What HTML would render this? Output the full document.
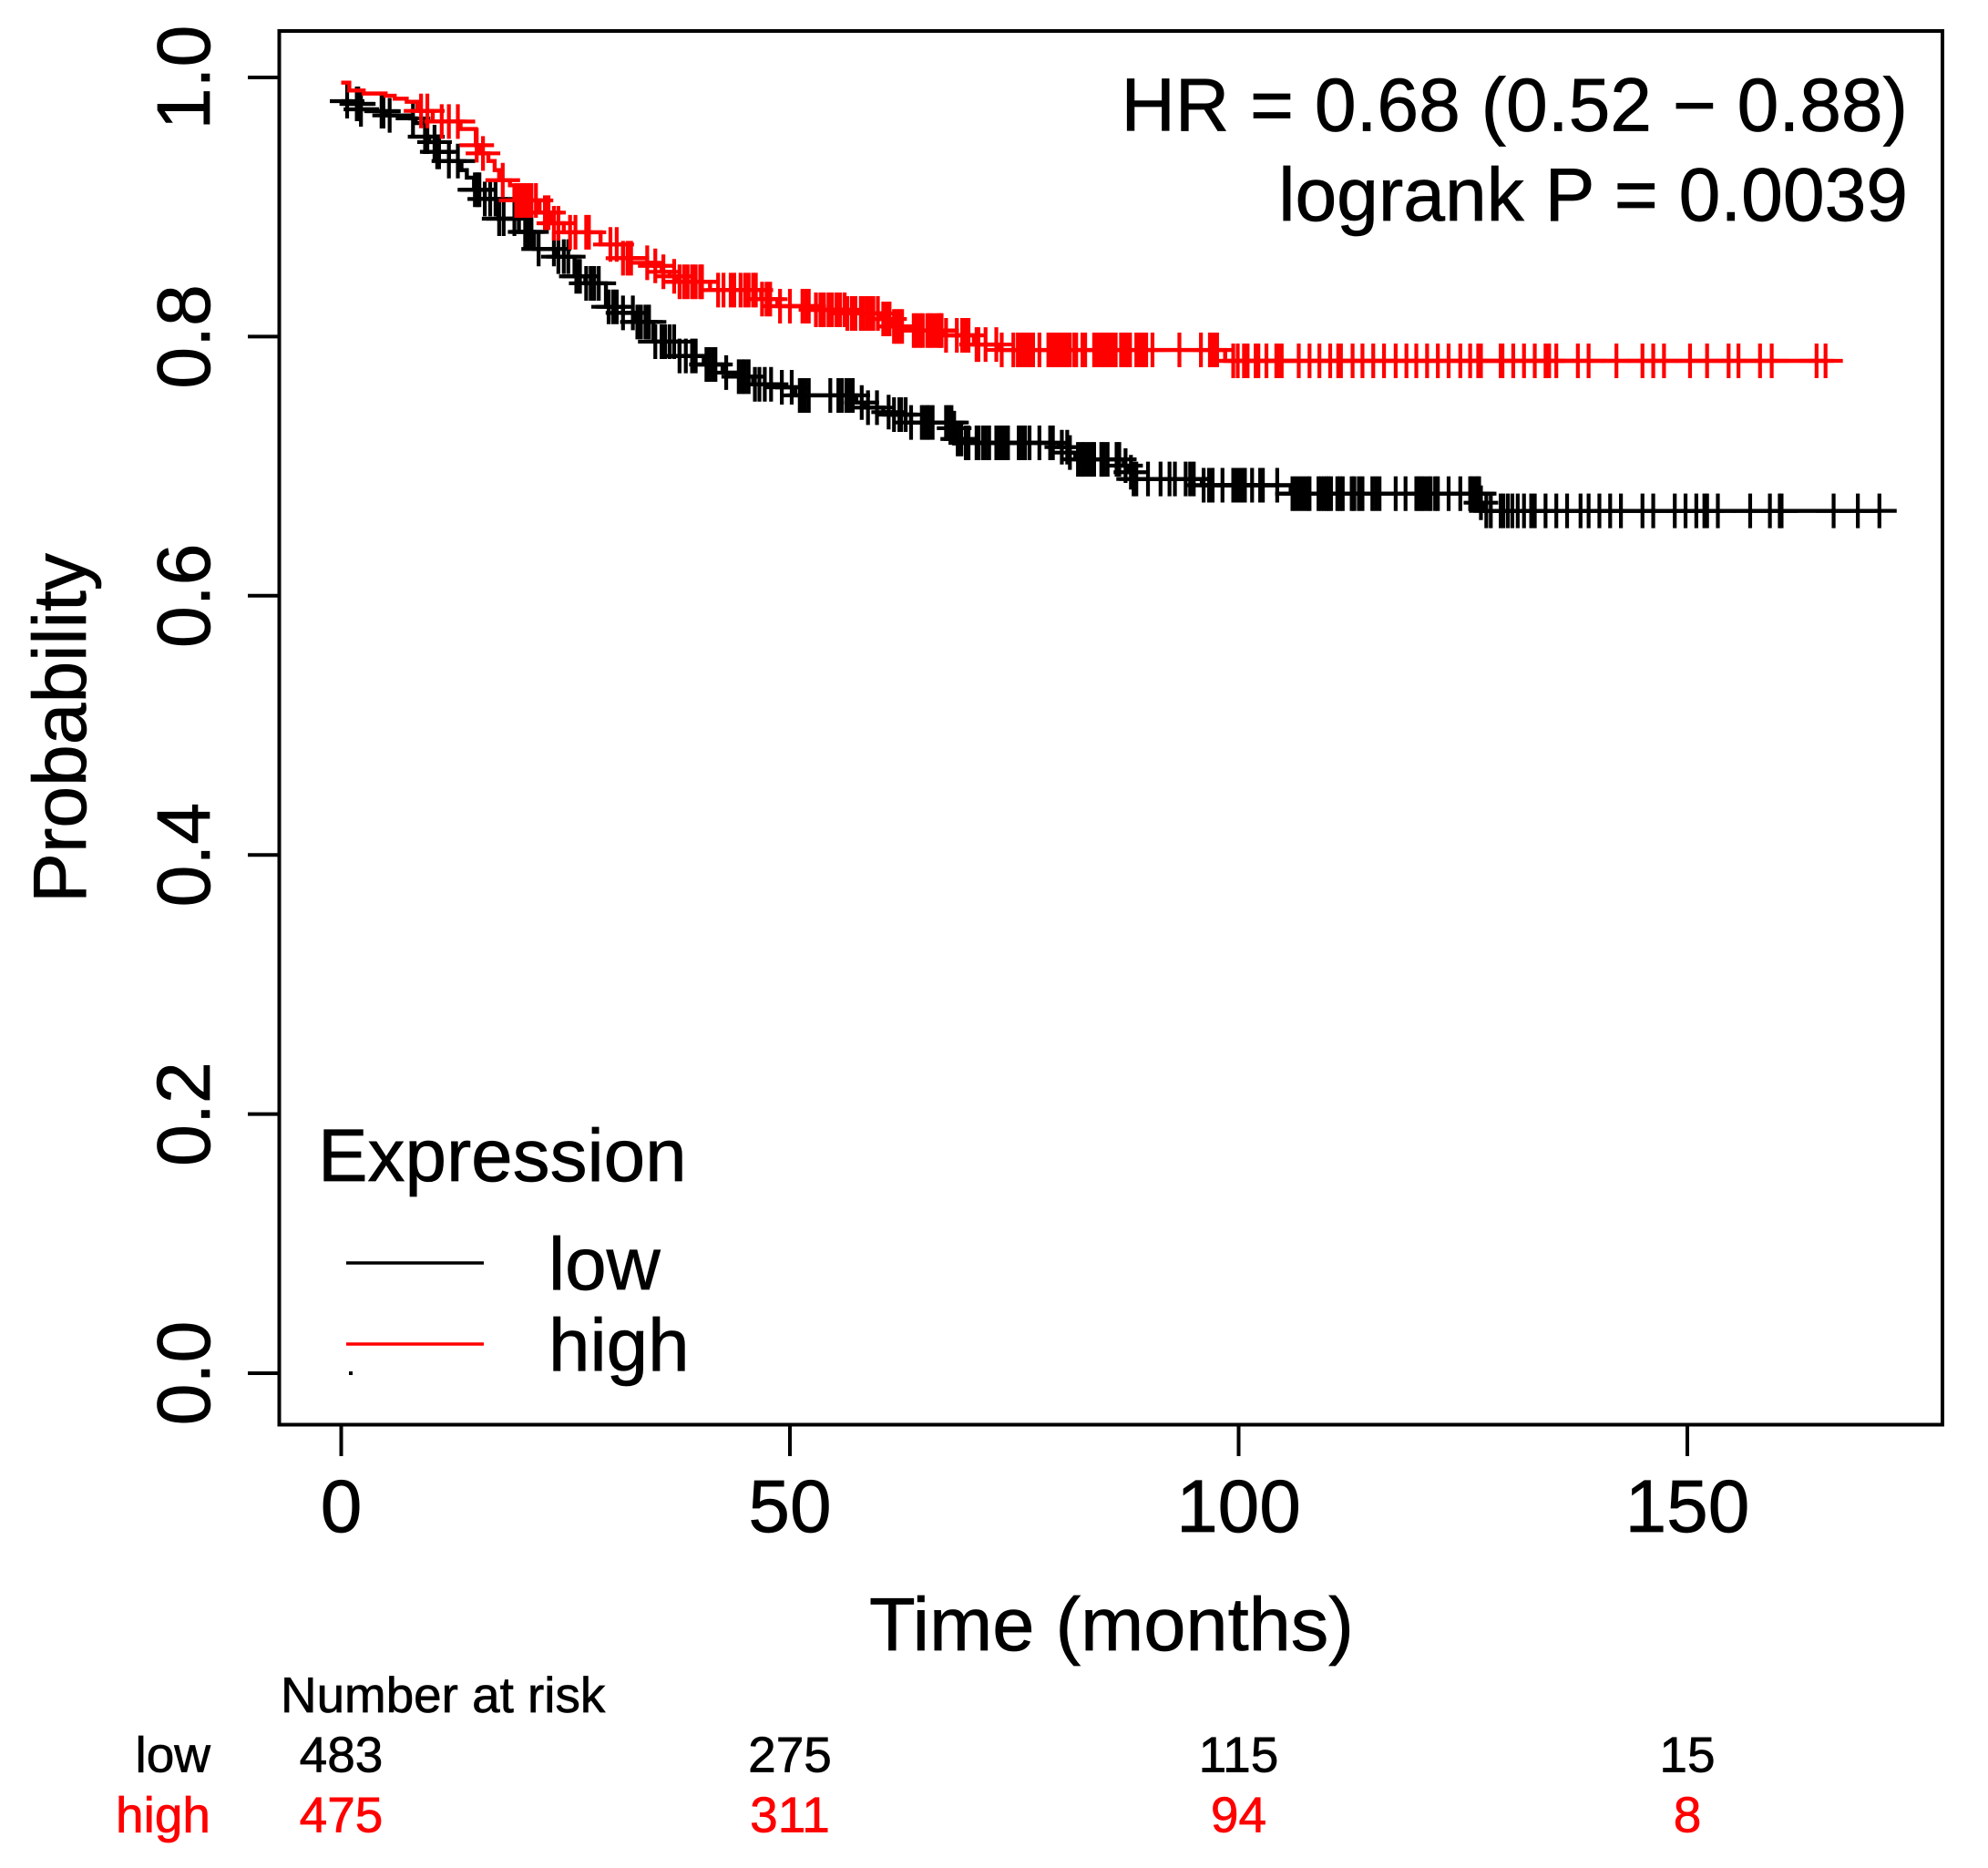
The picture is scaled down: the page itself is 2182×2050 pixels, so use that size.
<!DOCTYPE html>
<html lang="en">
<head>
<meta charset="utf-8">
<title>Kaplan-Meier survival plot</title>
<style>
html,body{margin:0;padding:0;background:#fff;}
svg{display:block;font-family:"Liberation Sans",Arial,sans-serif;}
text{stroke:#000;stroke-width:.7px;}
text[fill="#f00"]{stroke:#f00;}
</style>
</head>
<body>
<svg id="chart" xmlns="http://www.w3.org/2000/svg" width="2182" height="2050" viewBox="0 0 2182 2050">
  <rect x="0" y="0" width="2182" height="2050" fill="#fff"/>
  <g id="curves"></g>
  <rect x="306.5" y="34" width="1825.5" height="1529.5" fill="none" stroke="#000" stroke-width="4"/>
  <g id="axes"></g>
  <text transform="translate(94 799) rotate(-90)" text-anchor="middle" font-size="82.2">Probability</text>
  <text x="1220" y="1811" text-anchor="middle" font-size="83">Time (months)</text>
  <text x="2094" y="143.5" text-anchor="end" font-size="82.2">HR = 0.68 (0.52 − 0.88)</text>
  <text x="2094" y="242" text-anchor="end" font-size="82.2">logrank P = 0.0039</text>
  <g>
    <text x="349" y="1296" font-size="81.8">Expression</text>
    <line x1="380" y1="1386" x2="531" y2="1386" stroke="#000" stroke-width="3.5"/>
    <line x1="380" y1="1475" x2="531" y2="1475" stroke="#f00" stroke-width="3.5"/>
    <text x="602" y="1415" font-size="81.8">low</text>
    <text x="602" y="1504" font-size="81.8">high</text>
    <rect x="383" y="1505" width="4" height="4" fill="#000"/>
  </g>
  <g id="risk">
    <text x="308" y="1879" font-size="54.8">Number at risk</text>
    <text x="231" y="1944.5" text-anchor="end" font-size="55">low</text>
    <text x="231" y="2010.5" text-anchor="end" font-size="55" fill="#f00">high</text>
  </g>
</svg>
<script>
const xTicks = [0, 50, 100, 150];
const yTicks = [0.0, 0.2, 0.4, 0.6, 0.8, 1.0];
const yTickLabels = ["0.0", "0.2", "0.4", "0.6", "0.8", "1.0"];
const riskLow = [483, 275, 115, 15];
const riskHigh = [475, 311, 94, 8];

const lowTimes = [0,1.0,2.0,4.0,4.95,7.66,8.3,9.35,9.8,10.7,12.0,13.4,14.0,14.8,16.0,17.5,19.8,21.5,24.0,26.0,27.2,29.5,31.4,32.7,34.8,37.7,40.4,42.5,44.1,45.9,48.6,50.6,57.4,58.3,60.4,61.4,63.5,68.2,68.6,69.2,80.0,81.0,81.8,87.2,87.8,88.1,95.9,105.8,126.9,127.4];
const lowSurv = [.9817,.9796,.9754,.9740,.9707,.9684,.9648,.9543,.9501,.9426,.9355,.9285,.9227,.9133,.9062,.8910,.8808,.8676,.8617,.8465,.8411,.8230,.8183,.8113,.7961,.7851,.7785,.7722,.7691,.7632,.7609,.7546,.7491,.7452,.7417,.7398,.7337,.7293,.7210,.7180,.7147,.7105,.7053,.7004,.6953,.6901,.6853,.6788,.6718,.6655];
const lowCensor = [0.66,1.74,1.9,2.2,4.5,4.7,5.4,8.0,9.35,9.6,10.4,10.7,10.9,12.0,13.0,14.9,15.2,15.4,16.0,16.6,17.2,17.6,18.1,19.3,20.5,20.8,21.2,22.0,23.7,24.2,24.8,25.3,26.2,26.6,27.3,27.8,28.2,28.7,29.8,30.3,30.7,31.4,32.5,33.0,33.4,33.9,34.3,35.0,35.7,36.1,36.6,37.1,37.7,38.4,39.1,39.5,40.7,41.0,41.4,41.7,42.9,44.3,44.7,45,45.4,46.1,46.6,47.2,47.9,49.1,50.2,51.1,51.4,51.7,52.1,54.5,55.4,55.8,56.3,56.7,57.0,58.0,58.7,59.7,61.0,61.6,62.2,62.4,62.9,63.5,64.7,65,65.3,65.5,65.9,67.4,67.7,68.0,68.3,68.7,69.1,69.6,69.9,70.8,71,71.5,71.8,72.2,73.0,73.3,73.6,73.9,74.3,75.5,75.9,76.2,76.7,77.8,79.0,79.3,80.3,80.9,81.2,82.1,82.5,82.8,83.2,83.6,83.9,84.7,85.0,85.4,86.4,86.7,87.4,88.0,88.3,88.6,89.9,91.3,92.3,92.9,94.1,94.6,95.0,96.1,96.7,97.1,98.2,99.4,99.7,100,100.3,100.7,101.5,102.4,102.7,104.3,106.0,106.4,106.8,107.2,107.6,107.9,108.9,109.2,109.5,109.8,110,110.3,111,111.3,111.6,112.6,112.9,113.4,113.8,114.9,115.3,115.7,117.5,118.6,119.8,120.1,120.4,120.7,121.1,121.4,121.9,122.2,123.4,124.7,125.8,126.0,126.3,126.6,126.8,127.0,127.6,128.1,129.2,129.5,130.0,130.5,131.1,131.8,132.6,133.0,134.2,135.4,136.6,138.1,139.0,140.2,141.4,142.6,145,146.2,148.6,149.8,151,151.9,152.2,153.4,157,159.2,160.3,160.5,166.3,169,171.4];

const highTimes = [0,.9,2.5,4.95,5.96,7.3,8.5,10.2,13.3,15.0,15.5,16.4,17.1,17.6,18.8,19.3,22.1,23.5,24.8,28.9,31.4,34.1,34.8,35.7,36.6,37.4,41.1,46.8,48.6,52.7,56.3,60.1,61.4,63.4,67.1,70.5,73.4,98.5];
const highSurv = [.996,.9899,.9876,.9859,.9836,.9812,.9742,.9660,.9602,.9477,.9414,.9355,.9285,.9207,.9168,.9051,.8957,.8875,.8805,.8711,.8605,.8570,.8546,.8500,.8465,.8423,.8359,.8289,.8235,.8207,.8179,.8136,.8078,.8047,.8010,.7939,.7897,.7813];
const highCensor = [8.9,9.6,11.2,12.0,13.0,15.1,15.8,18.0,19.5,19.8,20.0,20.4,20.5,20.8,21.2,21.7,22.7,23.1,23.7,24.2,25.5,26.1,27.3,27.6,30.0,30.7,31.4,31.9,32.3,34.1,35.0,35.9,37.1,37.7,38.2,38.6,39.1,39.5,40.0,40.2,42.0,42.6,43.4,43.8,44.5,45,45.4,45.9,46.2,46.9,47.4,47.8,48.9,50.0,51.4,51.8,52.1,52.9,53.4,53.8,54.3,54.7,55.2,55.6,56.1,56.4,56.9,57.3,57.9,58.2,58.6,59.0,59.3,59.8,60.4,60.8,61.1,61.6,61.9,62.2,62.5,63.8,64.1,64.5,64.8,65.3,65.6,65.9,66.3,66.6,66.8,66.9,67.4,68.6,69.2,69.5,69.9,70.8,71.0,71.8,73.0,73.6,74.9,75.4,75.7,76.0,76.3,76.5,76.8,77.1,77.8,78.8,79.1,79.4,79.7,79.9,80.2,80.5,80.9,81.2,81.7,81.9,82.6,82.9,83.9,84.2,84.5,84.7,85.0,85.3,85.5,85.8,86.1,86.3,86.9,87.1,87.4,87.7,87.9,88.6,88.8,89.1,89.5,89.7,90.4,93.4,95.8,96.8,97.1,97.4,97.6,99.4,99.9,100.6,101.0,101.9,102.2,103.1,104.2,104.4,104.8,106.7,107.9,109.0,110.2,111.1,111.4,112.7,113.8,115.0,116.2,117.5,118.7,119.8,121.0,122.2,123.4,124.7,125.8,126.7,127.0,129.2,129.4,130.6,131.8,133.0,134.2,134.4,134.6,135.4,137.8,139.0,142.1,145.0,146.2,147.4,150.3,152.2,154.6,155.7,158.1,159.4,164.4,165.4];

const NS = "http://www.w3.org/2000/svg";
function xScale(t) { return 374.5 + 9.85 * t; }
function yScale(p) { return 1507 - 1422 * p; }
function survivalAt(times, surv, t) {
  let s = surv[0];
  for (let i = 0; i < times.length; i++) {
    if (times[i] <= t) s = surv[i];
  }
  return s;
}
function stepPath(times, surv, endT) {
  let d = "M" + xScale(times[0]) + " " + yScale(surv[0]);
  for (let i = 1; i < times.length; i++) {
    d += "H" + xScale(times[i]) + "V" + yScale(surv[i]);
  }
  return d + "H" + xScale(endT);
}
function drawSeries(parent, times, surv, censor, color, curveName, markName) {
  const path = document.createElementNS(NS, "path");
  path.setAttribute("d", stepPath(times, surv, censor[censor.length - 1]));
  path.setAttribute("fill", "none");
  path.setAttribute("stroke", color);
  path.setAttribute("stroke-width", "4.4");
  
  
  parent.appendChild(path);
  censor.forEach(function (t) {
    const cx = xScale(t);
    const cy = yScale(survivalAt(times, surv, t));
    const cross = document.createElementNS(NS, "path");
    cross.setAttribute("d", "M" + (cx - 19) + " " + cy + "H" + (cx + 19) + "M" + cx + " " + (cy - 19) + "V" + (cy + 19));
    cross.setAttribute("fill", "none");
    cross.setAttribute("stroke", color);
    cross.setAttribute("stroke-width", "4.2");
    
    
    parent.appendChild(cross);
  });
}
const curves = document.getElementById("curves");
drawSeries(curves, lowTimes, lowSurv, lowCensor, "#000", "curve-low", "censor-mark-low");
drawSeries(curves, highTimes, highSurv, highCensor, "#f00", "curve-high", "censor-mark-high");

const axes = document.getElementById("axes");
yTicks.forEach(function (v, i) {
  const tick = document.createElementNS(NS, "line");
  tick.setAttribute("x1", "272");
  tick.setAttribute("x2", "306.5");
  tick.setAttribute("y1", yScale(v));
  tick.setAttribute("y2", yScale(v));
  tick.setAttribute("stroke", "#000");
  tick.setAttribute("stroke-width", "4");
  
  
  axes.appendChild(tick);
  const label = document.createElementNS(NS, "text");
  label.setAttribute("transform", "translate(230 " + yScale(v) + ") rotate(-90)");
  label.setAttribute("text-anchor", "middle");
  label.setAttribute("font-size", "82.5");
  label.textContent = yTickLabels[i];
  
  
  axes.appendChild(label);
});
xTicks.forEach(function (v) {
  const tick = document.createElementNS(NS, "line");
  tick.setAttribute("x1", xScale(v));
  tick.setAttribute("x2", xScale(v));
  tick.setAttribute("y1", "1563.5");
  tick.setAttribute("y2", "1598");
  tick.setAttribute("stroke", "#000");
  tick.setAttribute("stroke-width", "4");
  
  
  axes.appendChild(tick);
  const label = document.createElementNS(NS, "text");
  label.setAttribute("x", xScale(v));
  label.setAttribute("y", "1681");
  label.setAttribute("text-anchor", "middle");
  label.setAttribute("font-size", "82");
  label.textContent = String(v);
  
  
  axes.appendChild(label);
});
const risk = document.getElementById("risk");
xTicks.forEach(function (v, i) {
  const low = document.createElementNS(NS, "text");
  low.setAttribute("x", xScale(v));
  low.setAttribute("y", "1944.5");
  low.setAttribute("text-anchor", "middle");
  low.setAttribute("font-size", "55");
  low.textContent = String(riskLow[i]);
  
  
  risk.appendChild(low);
  const high = document.createElementNS(NS, "text");
  high.setAttribute("x", xScale(v));
  high.setAttribute("y", "2010.5");
  high.setAttribute("text-anchor", "middle");
  high.setAttribute("font-size", "55");
  high.setAttribute("fill", "#f00");
  high.textContent = String(riskHigh[i]);
  
  
  risk.appendChild(high);
});
</script>
</body>
</html>
